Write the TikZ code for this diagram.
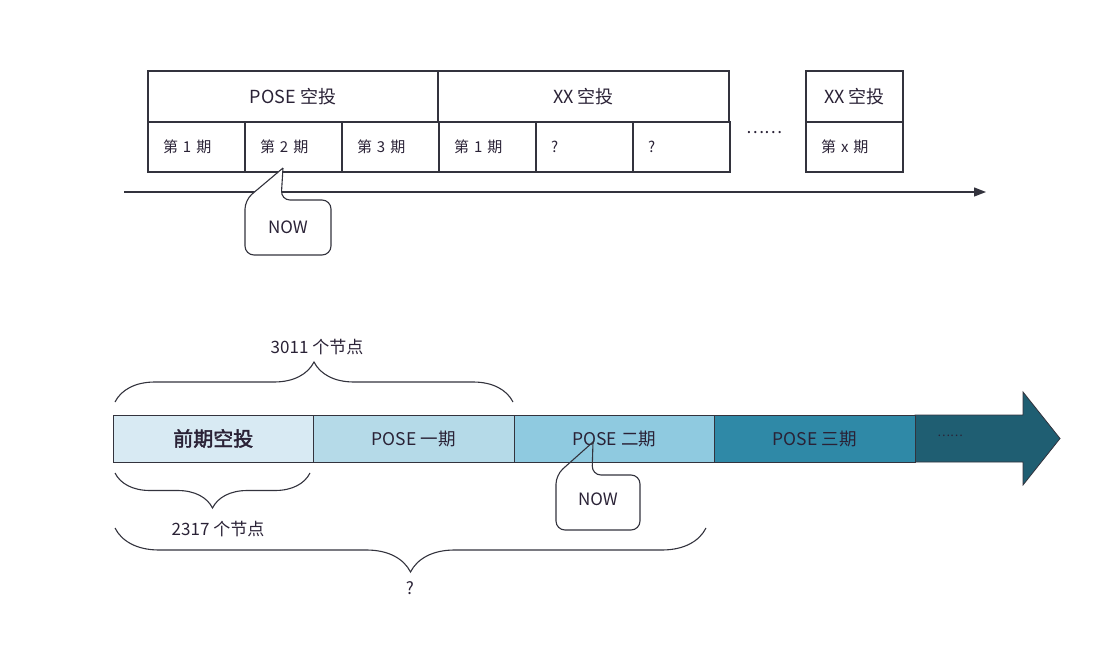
\documentclass[tikz,border=0pt]{standalone}
\usepackage{fontspec}
\setmainfont{Noto Sans CJK SC}[AutoFakeBold=2]
\usetikzlibrary{arrows.meta,positioning,decorations.pathreplacing}
\definecolor{ink}{HTML}{2A2236}
\definecolor{edge}{HTML}{33333D}
\definecolor{segA}{HTML}{D8EAF3}
\definecolor{segB}{HTML}{B5DAE8}
\definecolor{segC}{HTML}{8FCAE0}
\definecolor{segD}{HTML}{2F89A7}
\definecolor{segE}{HTML}{1F5E72}

\begin{document}
\begin{tikzpicture}[x=1pt, y=-1pt,
  every node/.style={text=ink},
  hd/.style={draw=edge, line width=1.1pt, anchor=north west, outer sep=0pt, minimum width=290pt, minimum height=51pt, inner sep=0pt, font=\fontsize{18}{18}\selectfont},
  sub/.style={draw=edge, line width=1.1pt, outer sep=0pt, minimum height=50pt, text width=67pt, inner xsep=15pt, inner ysep=0pt, align=left, font=\fontsize{15}{15}\selectfont},
  seg/.style={draw=edge, line width=0.8pt, outer sep=0pt, minimum width=200.5pt, minimum height=47pt, inner sep=0pt, font=\fontsize{17.5}{17.5}\selectfont},
  brc/.style={decorate, decoration={brace, amplitude=#1}, draw=edge, line width=1.1pt},
  brcm/.style={decorate, decoration={brace, mirror, amplitude=#1}, draw=edge, line width=1.1pt},
  callout/.style={draw=edge, line width=1.1pt, rounded corners=9pt},
  lbl/.style={font=\fontsize{17}{17}\selectfont}
]
\useasboundingbox (0,0) rectangle (1108,652);

% upper timeline: airdrops and their rounds
\node[hd] (pose) at (148,71) {POSE 空投};
\node[hd, right=0pt of pose, minimum width=291pt] (xx) {XX 空投};
\node[sub, anchor=north west] (c1) at (pose.south west) {第 1 期};
\node[sub, right=0pt of c1] (c2) {第 2 期};
\node[sub, right=0pt of c2] (c3) {第 3 期};
\node[sub, right=0pt of c3] (c4) {第 1 期};
\node[sub, right=0pt of c4] (c5) {?};
\node[sub, right=0pt of c5] (c6) {?};

\node[font=\fontsize{17}{17}\selectfont] (gap) at (764,133) {……};

\node[hd, minimum width=97pt] (xxn) at (806,71) {XX 空投};
\node[sub, anchor=north west] (cx) at (xxn.south west) {第 x 期};

\coordinate (t0) at (124,192);
\coordinate (t1) at (986,192);
\draw[draw=edge, line width=1.3pt, -{Triangle[length=12pt,width=9pt]}] (t0) -- (t1);

\coordinate (tip1) at (283,168);
\filldraw[callout, fill=white] (tip1) -- (281,200) -- (331,200) -- (331,255) -- (245,255) -- (245,200) -- (tip1);
\node[lbl] (now1) at (288,227) {NOW};

% lower timeline: node counts
\draw[draw=edge, line width=0.8pt, fill=segE] (915,415) -- (1023,415) -- (1023,392) -- (1060,438.5) -- (1023,485) -- (1023,462) -- (915,462) -- cycle;
\node[seg, fill=segA, anchor=west, font=\bfseries\fontsize{20}{20}\selectfont] (s0) at (113,438.5) {前期空投};
\node[seg, fill=segB, right=0pt of s0] (s1) {POSE 一期};
\node[seg, fill=segC, right=0pt of s1] (s2) {POSE 二期};
\node[seg, fill=segD, right=0pt of s2] (s3) {POSE 三期};
\node[font=\fontsize{12}{12}\selectfont] (more) at (950,436) {……};

\coordinate (u1) at (115,402);
\coordinate (u2) at (513,402);
\draw[brc=40pt] (u1) -- (u2);
\node[lbl] (n3011) at (317,347) {3011 个节点};

\coordinate (l1) at (115,473);
\coordinate (l2) at (310,473);
\draw[brcm=35pt] (l1) -- (l2);
\node[lbl] (n2317) at (218,529) {2317 个节点};

\coordinate (w1) at (115,528);
\coordinate (w2) at (706,528);
\draw[brcm=44pt] (w1) -- (w2);
\node[lbl] (nq) at (410,588) {?};

\coordinate (tip2) at (593,442);
\draw[callout] (tip2) -- (592,475) -- (640,475) -- (640,530) -- (556,530) -- (556,475) -- (tip2);
\node[lbl] (now2) at (598,499) {NOW};
\end{tikzpicture}
\end{document}
